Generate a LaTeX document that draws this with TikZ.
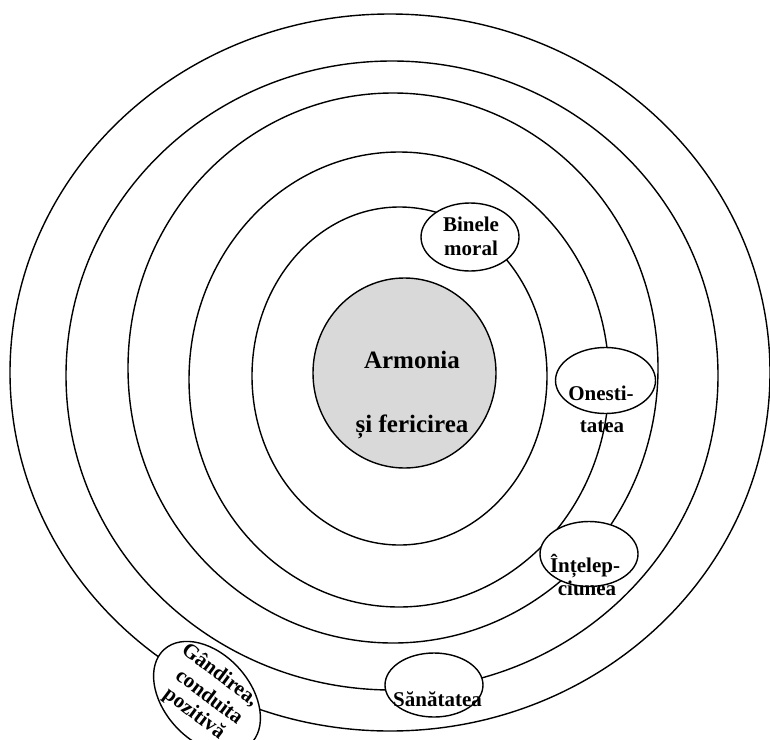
\documentclass[tikz,border=0pt]{standalone}
\usepackage{fontspec}
\setmainfont{Liberation Serif}
\usetikzlibrary{shapes.geometric}
\definecolor{coregray}{HTML}{D9D9D9}
\begin{document}
\begin{tikzpicture}[x=1pt,y=-1pt,
  ring/.style={ellipse, draw, line width=1.4pt, inner sep=0pt, outer sep=0pt},
  badge/.style={ellipse, draw, fill=white, line width=1.4pt, inner sep=0pt, outer sep=0pt},
  lbl/.style={font=\fontsize{21}{21}\selectfont\bfseries, inner sep=0pt, anchor=base},
  corelbl/.style={font=\fontsize{25}{25}\selectfont\bfseries, inner sep=0pt, anchor=base}]
\path[use as bounding box, clip] (0,0) rectangle (770,739);

% concentric rings, outermost first
\node[ring, minimum width=760, minimum height=717] (r5) at (390,372.5) {};
\node[ring, minimum width=652, minimum height=629] (r4) at (392,375.5) {};
\node[ring, minimum width=530, minimum height=550] (r3) at (393,368) {};
\node[ring, minimum width=420, minimum height=455] (r2) at (399,379.5) {};
\node[ring, minimum width=295, minimum height=338] (r1) at (399.5,376) {};
\node[ring, fill=coregray, minimum width=183, minimum height=190] (core) at (404.5,373) {};

% value ellipses sitting on the rings
\node[badge, minimum width=98, minimum height=68] (bine) at (470,237) {};
\node[badge, minimum width=100, minimum height=66] (onest) at (605.5,380.5) {};
\node[badge, minimum width=98, minimum height=65] (intel) at (589,554) {};
\node[badge, minimum width=98, minimum height=64] (sanat) at (434,685) {};
\node[badge, rotate=-48, minimum width=128, minimum height=86] (gand) at (207,697) {};

% labels
\node[corelbl] (t1) at (412,368) {Armonia};
\node[corelbl] (t2) at (412,432) {și fericirea};
\node[lbl] (b1) at (471,231) {Binele};
\node[lbl] (b2) at (471,255) {moral};
\node[lbl] (o1) at (601,400) {Onesti-};
\node[lbl] (o2) at (602,432) {tatea};
\node[lbl] (i1) at (585,572) {Înțelep-};
\node[lbl] (i2) at (587,595) {ciunea};
\node[lbl] (s1) at (437.5,706) {Sănătatea};
\node[lbl, anchor=center, rotate=-37] (g1) at (220,675) {Gândirea,};
\node[lbl, anchor=center, rotate=-37] (g2) at (210,696) {conduita};
\node[lbl, anchor=center, rotate=-37] (g3) at (194,714) {pozitivă};
\end{tikzpicture}
\end{document}
